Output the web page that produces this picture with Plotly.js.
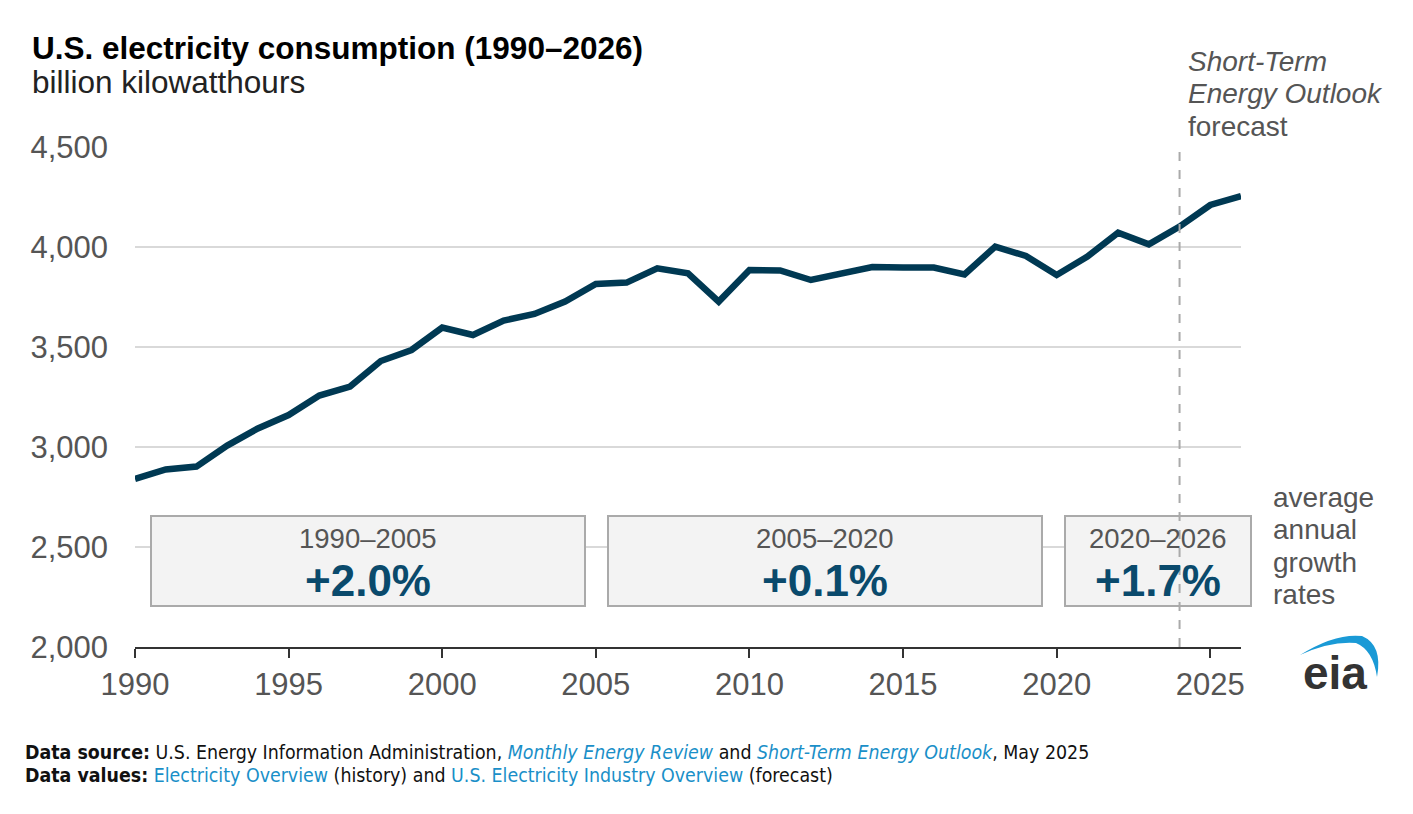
<!DOCTYPE html>
<html>
<head>
<meta charset="utf-8">
<script src="https://cdn.plot.ly/plotly-3.0.1.min.js"></script>
<style>
html,body{margin:0;padding:0;background:#fff;}
#chart{width:1413px;height:814px;}
</style>
</head>
<body>
<div id="chart"></div>
<script>
// ---- data ----
var years = [1990,1991,1992,1993,1994,1995,1996,1997,1998,1999,2000,2001,2002,2003,2004,2005,2006,2007,2008,2009,2010,2011,2012,2013,2014,2015,2016,2017,2018,2019,2020,2021,2022,2023,2024,2025,2026];
var consumption = [2840,2888,2902,3007,3093,3160,3257,3302,3430,3485,3597,3560,3632,3665,3727,3815,3822,3893,3868,3727,3885,3883,3835,3867,3900,3897,3897,3863,4002,3955,3860,3952,4072,4013,4102,4210,4255];
var periods = ["1990\u20132005","2005\u20132020","2020\u20132026"];
var growthRates = ["+2.0%","+0.1%","+1.7%"];
var forecastStart = 2024;
var yTicks = [2000,2500,3000,3500,4000,4500];
var xTicks = [1990,1995,2000,2005,2010,2015,2020,2025];
var forecastLabel = ["<i>Short-Term</i>","<i>Energy Outlook</i>","forecast"];
var growthLabel = ["average","annual","growth","rates"];

// ---- layout helpers (pixel -> paper) ----
var L = 135, R = 1241, T = 147, B = 647;
function px(x){ return (x - L) / (R - L); }
function py(y){ return (B - y) / (B - T); }

var FONT = "Liberation Sans, Arial, sans-serif";
var GRAY = "#555555";

var boxesPx = [[151,585],[608,1042],[1065,1251]];
var shapes = [];
var annotations = [];

boxesPx.forEach(function(b, i){
  shapes.push({type:'rect', xref:'paper', yref:'paper', x0:px(b[0]), x1:px(b[1]), y0:py(606), y1:py(516),
    fillcolor:'#f3f3f3', line:{color:'#aaaaaa', width:2}, layer:'above'});
  var cx = px((b[0]+b[1])/2);
  annotations.push({xref:'paper', yref:'paper', x:cx, y:py(538), xanchor:'center', yanchor:'middle', showarrow:false,
    text:periods[i], font:{family:FONT, size:27.5, color:GRAY}});
  annotations.push({xref:'paper', yref:'paper', x:cx, y:py(580), xanchor:'center', yanchor:'middle', showarrow:false,
    text:'<b>'+growthRates[i]+'</b>', font:{family:FONT, size:44, color:'#0a4a6c'}});
});

shapes.push({type:'line', xref:'x', yref:'paper', x0:forecastStart, x1:forecastStart, y0:0, y1:1,
  line:{color:'#aaaaaa', width:2, dash:'dash'}});

// eia logo arc
function P(x,y){ return px(x).toFixed(5)+','+py(y).toFixed(5); }
shapes.push({type:'path', xref:'paper', yref:'paper',
  path:'M'+P(1300,655)+' Q'+P(1335,633)+' '+P(1362,636)+' Q'+P(1383,645)+' '+P(1377,677)+
       ' Q'+P(1373,650)+' '+P(1356,643)+' Q'+P(1330,641)+' '+P(1300,655)+' Z',
  fillcolor:'#1a9ad6', line:{width:0}});

annotations.push({xref:'paper', yref:'paper', x:px(1335), y:py(673), xanchor:'center', yanchor:'middle', showarrow:false,
  text:'<b>eia</b>', font:{family:FONT, size:46, color:'#333333'}});

// titles
annotations.push({xref:'paper', yref:'paper', x:px(30), y:py(48), xanchor:'left', yanchor:'middle', showarrow:false,
  text:'<b>U.S. electricity consumption (1990\u20132026)</b>', font:{family:FONT, size:31.5, color:'#000'}});
annotations.push({xref:'paper', yref:'paper', x:px(30), y:py(82), xanchor:'left', yanchor:'middle', showarrow:false,
  text:'billion kilowatthours', font:{family:FONT, size:31.5, color:'#222'}});

// forecast label
forecastLabel.forEach(function(t, i){
  annotations.push({xref:'paper', yref:'paper', x:px(1186), y:py(61 + i*33), xanchor:'left', yanchor:'middle', showarrow:false,
    text:t, font:{family:FONT, size:28, color:GRAY}});
});

// growth rates label
growthLabel.forEach(function(t, i){
  annotations.push({xref:'paper', yref:'paper', x:px(1271), y:py(497 + i*32.5), xanchor:'left', yanchor:'middle', showarrow:false,
    text:t, font:{family:FONT, size:28, color:GRAY}});
});

// footer
var FF = "Liberation Sans Narrow, DejaVu Sans Condensed, Arial Narrow, sans-serif";
var LINK = '#1a8fc8';
annotations.push({xref:'paper', yref:'paper', x:px(23), y:py(752), xanchor:'left', yanchor:'middle', showarrow:false,
  text:'<b>Data source:</b> U.S. Energy Information Administration, <span style="color:'+LINK+'"><i>Monthly Energy Review</i></span> and <span style="color:'+LINK+'"><i>Short-Term Energy Outlook</i></span>, May 2025',
  font:{family:FF, size:19.4, color:'#111'}});
annotations.push({xref:'paper', yref:'paper', x:px(23), y:py(775), xanchor:'left', yanchor:'middle', showarrow:false,
  text:'<b>Data values:</b> <span style="color:'+LINK+'">Electricity Overview</span> (history) and <span style="color:'+LINK+'">U.S. Electricity Industry Overview</span> (forecast)',
  font:{family:FF, size:19.4, color:'#111'}});

var trace = {x:years, y:consumption, type:'scatter', mode:'lines',
  line:{color:'#003953', width:6.5}, hoverinfo:'x+y'};

var layout = {
  width:1413, height:814,
  margin:{l:L, r:1413-R, t:T, b:814-B, pad:0},
  paper_bgcolor:'#fff', plot_bgcolor:'#fff',
  showlegend:false,
  xaxis:{range:[1990,2026], tickvals:xTicks, ticktext:xTicks.map(String), showgrid:false, zeroline:false,
    showline:true, linecolor:'#333', linewidth:2, ticks:'outside', ticklen:9, tickwidth:2, tickcolor:'#333',
    tickfont:{family:FONT, size:31, color:GRAY}},
  yaxis:{range:[2000,4500], tickvals:yTicks, ticktext:yTicks.map(function(v){return v.toLocaleString('en-US');}),
    showgrid:true, gridcolor:'#d9d9d9', gridwidth:2, zeroline:false, showline:false, ticks:'',
    ticklabelstandoff:26, tickfont:{family:FONT, size:31, color:GRAY}},
  shapes:shapes,
  annotations:annotations
};

Plotly.newPlot('chart', [trace], layout, {displayModeBar:false, staticPlot:true});
</script>
</body>
</html>
